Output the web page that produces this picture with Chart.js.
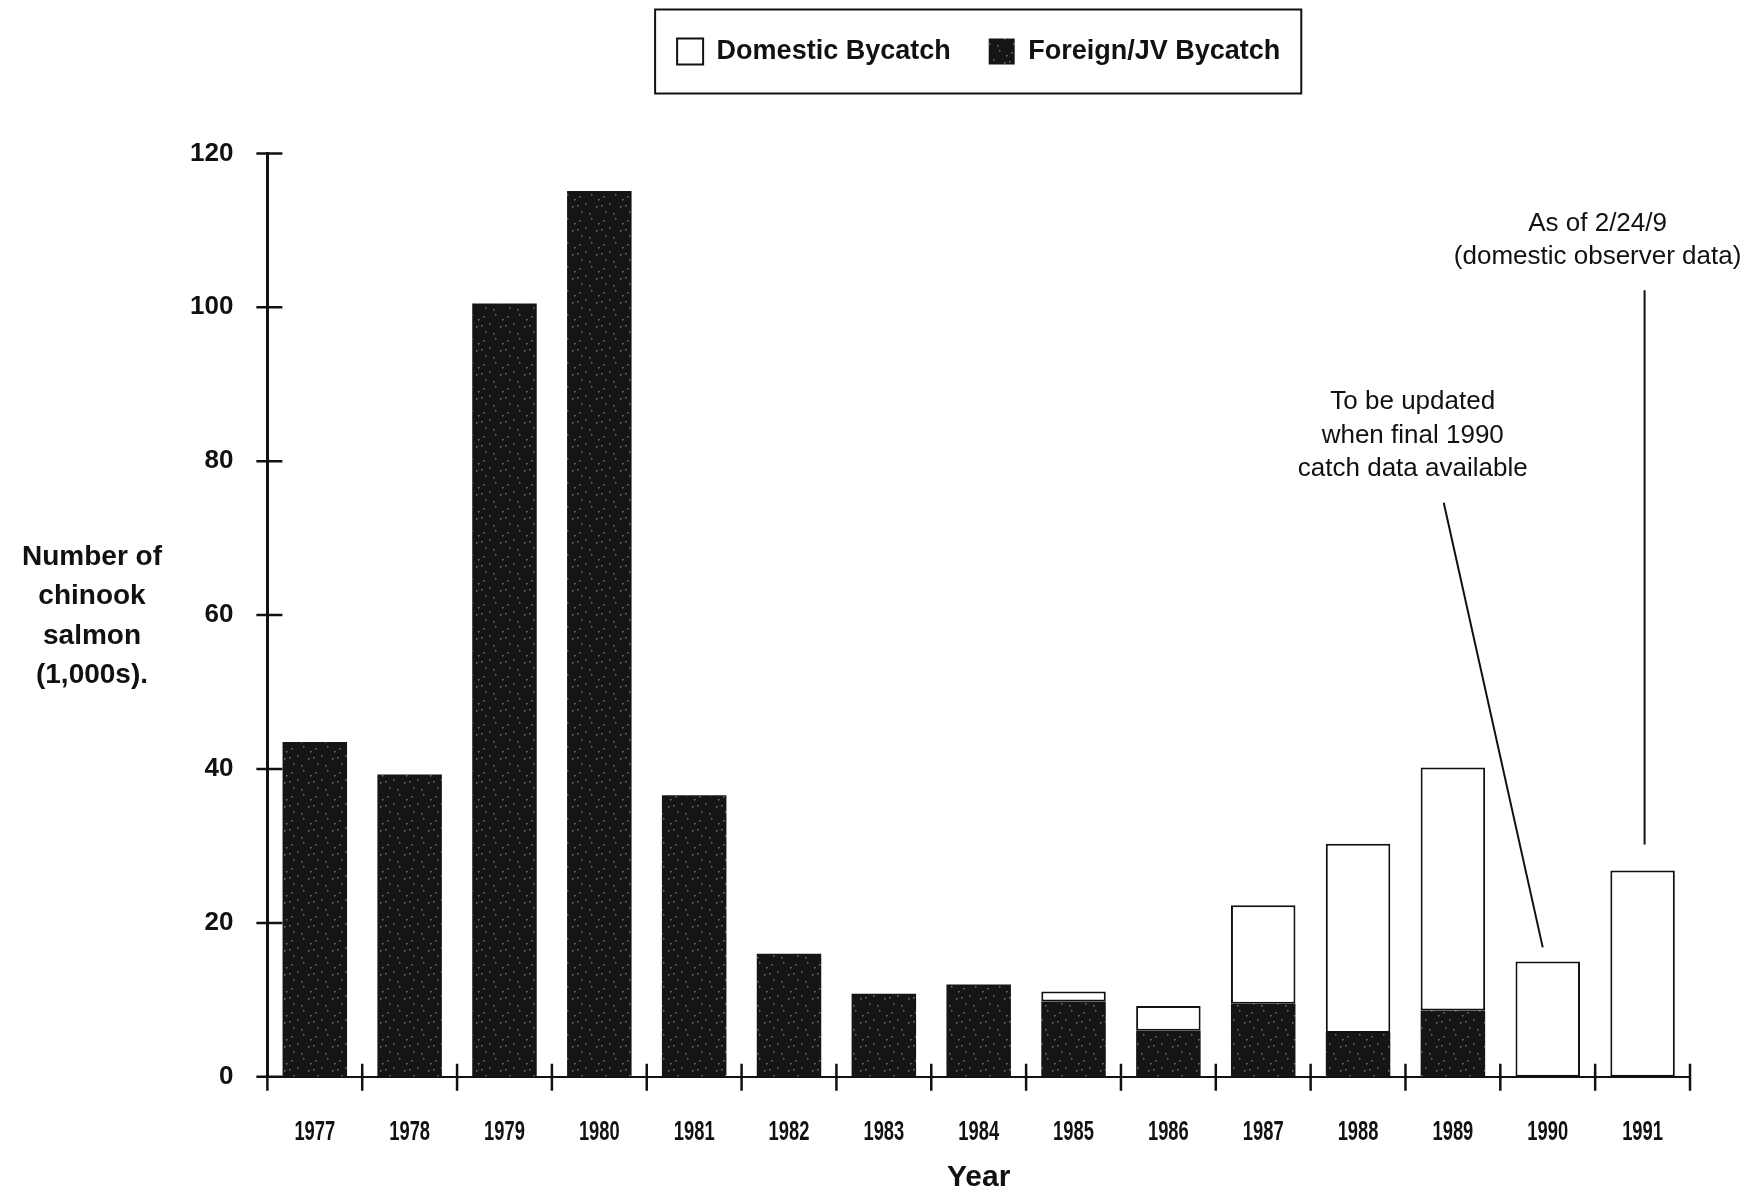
<!DOCTYPE html>
<html lang="en">
<head>
    <meta charset="UTF-8">
    <title>Chinook salmon bycatch 1977-1991</title>
    <script src="https://cdn.jsdelivr.net/npm/chart.js"></script>
    <style>
        html, body {
            margin: 0;
            padding: 0;
            background-color: #fff;
        }
        .chart-container {
            width: 1750px;
            height: 1190px;
            position: relative;
        }
    </style>
</head>
<body>
    <div class="chart-container">
        <canvas id="bycatchChart"></canvas>
    </div>
    <script>
        // values (thousands of fish)
        const years = ['1977', '1978', '1979', '1980', '1981', '1982', '1983', '1984',
                       '1985', '1986', '1987', '1988', '1989', '1990', '1991'];
        const foreignBycatch = [43.5, 39.3, 100.5, 115.1, 36.6, 16.0, 10.8, 12.0,
                                9.8, 6.0, 9.5, 5.7, 8.6, 0, 0];
        const domesticBycatch = [0, 0, 0, 0, 0, 0, 0, 0,
                                 1.3, 3.2, 12.8, 24.6, 31.6, 15.0, 26.8];
        const yTicks = [0, 20, 40, 60, 80, 100, 120];
        const yTitleLines = ['Number of', 'chinook', 'salmon', '(1,000s).'];

        const ink = '#111';
        const fontFamily = "'Liberation Sans', Arial, sans-serif";

        // dark speckled fill like the photocopied original
        function speckle() {
            const c = document.createElement('canvas');
            c.width = 24; c.height = 24;
            const g = c.getContext('2d');
            g.fillStyle = '#151515';
            g.fillRect(0, 0, 24, 24);
            g.fillStyle = 'rgba(200,200,200,0.55)';
            [[3, 4], [15, 2], [9, 11], [20, 14], [5, 19], [13, 21], [22, 7], [1, 13]].forEach(p => {
                g.fillRect(p[0], p[1], 1.5, 1.5);
            });
            return g.createPattern(c, 'repeat');
        }

        // tick marks that cross the axis lines, condensed year labels,
        // legend frame, y title and the two notes
        const decorations = {
            id: 'decorations',
            afterDraw(chart) {
                const ctx = chart.ctx;
                const x = chart.scales.x, y = chart.scales.y;
                ctx.save();
                ctx.strokeStyle = ink;
                ctx.lineWidth = 2.5;
                ctx.beginPath();
                yTicks.forEach(v => {
                    const py = y.getPixelForValue(v);
                    ctx.moveTo(x.left - 11, py);
                    ctx.lineTo(x.left + 15, py);
                });
                const step = (x.right - x.left) / years.length;
                for (let i = 0; i <= years.length; i++) {
                    const px = x.left + i * step;
                    ctx.moveTo(px, y.bottom - 13);
                    ctx.lineTo(px, y.bottom + 14);
                }
                ctx.stroke();

                // year labels, narrow like the original typeface
                ctx.fillStyle = ink;
                ctx.font = 'bold 27px ' + fontFamily;
                ctx.textAlign = 'center';
                ctx.textBaseline = 'middle';
                years.forEach((t, i) => {
                    ctx.save();
                    ctx.translate(x.getPixelForValue(i), y.bottom + 56);
                    ctx.scale(0.68, 1);
                    ctx.fillText(t, 0, 0);
                    ctx.restore();
                });

                // legend frame
                const hb = chart.legend.legendHitBoxes;
                if (hb && hb.length) {
                    const first = hb[0], last = hb[hb.length - 1];
                    const cy = first.top + first.height / 2;
                    ctx.lineWidth = 2;
                    ctx.strokeRect(first.left - 22, cy - 42, last.left + last.width + 21 - (first.left - 22), 84);
                }

                // horizontal y title
                ctx.font = 'bold 28px ' + fontFamily;
                const ty = y.getPixelForValue(60) + 1;
                yTitleLines.forEach((t, i) => {
                    ctx.fillText(t, y.left - 72, ty + (i - 1.5) * 39.5);
                });

                // annotations
                ctx.font = '26px ' + fontFamily;
                const x90 = x.getPixelForValue(13), x91 = x.getPixelForValue(14);
                const top90 = y.getPixelForValue(foreignBycatch[13] + domesticBycatch[13]);
                const top91 = y.getPixelForValue(foreignBycatch[14] + domesticBycatch[14]);
                const a1 = y.getPixelForValue(87.7);
                ['To be updated', 'when final 1990', 'catch data available'].forEach((t, i) => {
                    ctx.fillText(t, x90 - 135, a1 + i * 33.5);
                });
                const a2 = y.getPixelForValue(110.9);
                ['As of 2/24/9', '(domestic observer data)'].forEach((t, i) => {
                    ctx.fillText(t, x91 - 45, a2 + i * 33);
                });
                ctx.lineWidth = 2;
                ctx.beginPath();
                ctx.moveTo(x90 - 104, y.getPixelForValue(74.6));
                ctx.lineTo(x90 - 5, top90 - 14);
                ctx.moveTo(x91 + 2, y.getPixelForValue(102.2));
                ctx.lineTo(x91 + 2, top91 - 26);
                ctx.stroke();
                ctx.restore();
            }
        };

        const data = {
            labels: years,
            datasets: [{
                label: 'Foreign/JV Bycatch',
                data: foreignBycatch,
                backgroundColor: speckle(),
                borderColor: ink,
                borderWidth: 0,
                barPercentage: 0.68,
                categoryPercentage: 1.0
            }, {
                label: 'Domestic Bycatch',
                data: domesticBycatch,
                backgroundColor: '#fff',
                borderColor: ink,
                borderWidth: 2,
                borderSkipped: false,
                barPercentage: 0.68,
                categoryPercentage: 1.0
            }]
        };

        const config = {
            type: 'bar',
            data: data,
            options: {
                responsive: true,
                maintainAspectRatio: false,
                animation: false,
                devicePixelRatio: 1,
                layout: {
                    padding: { left: 164, right: 60, top: 0, bottom: 0 }
                },
                plugins: {
                    tooltip: { enabled: false },
                    legend: {
                        position: 'top',
                        fullSize: false,
                        reverse: true,
                        labels: {
                            color: ink,
                            boxWidth: 26,
                            boxHeight: 26,
                            padding: 38,
                            font: { family: fontFamily, size: 27, weight: 'bold' }
                        }
                    },
                    // empty title used only as a gap between legend and plot
                    title: {
                        display: true,
                        text: '',
                        weight: 500,
                        padding: { top: 64, bottom: 0 },
                        font: { size: 12 }
                    }
                },
                scales: {
                    x: {
                        stacked: true,
                        grid: { display: false },
                        border: { display: true, color: ink, width: 2 },
                        ticks: {
                            // space kept for the labels, which the plugin draws condensed
                            color: 'rgba(0,0,0,0)',
                            padding: 35,
                            maxRotation: 0,
                            font: { family: fontFamily, size: 21, weight: 'bold' }
                        },
                        title: {
                            display: true,
                            text: 'Year',
                            color: ink,
                            padding: { top: -20, bottom: -6 },
                            font: { family: fontFamily, size: 30, weight: 'bold' }
                        }
                    },
                    y: {
                        stacked: true,
                        min: 0,
                        max: 120,
                        grid: { display: false },
                        border: { display: true, color: ink, width: 3 },
                        ticks: {
                            color: ink,
                            stepSize: 20,
                            padding: 26,
                            font: { family: fontFamily, size: 26, weight: 'bold' }
                        }
                    }
                }
            },
            plugins: [decorations]
        };

        const bycatchChart = new Chart(document.getElementById('bycatchChart'), config);
    </script>
</body>
</html>
